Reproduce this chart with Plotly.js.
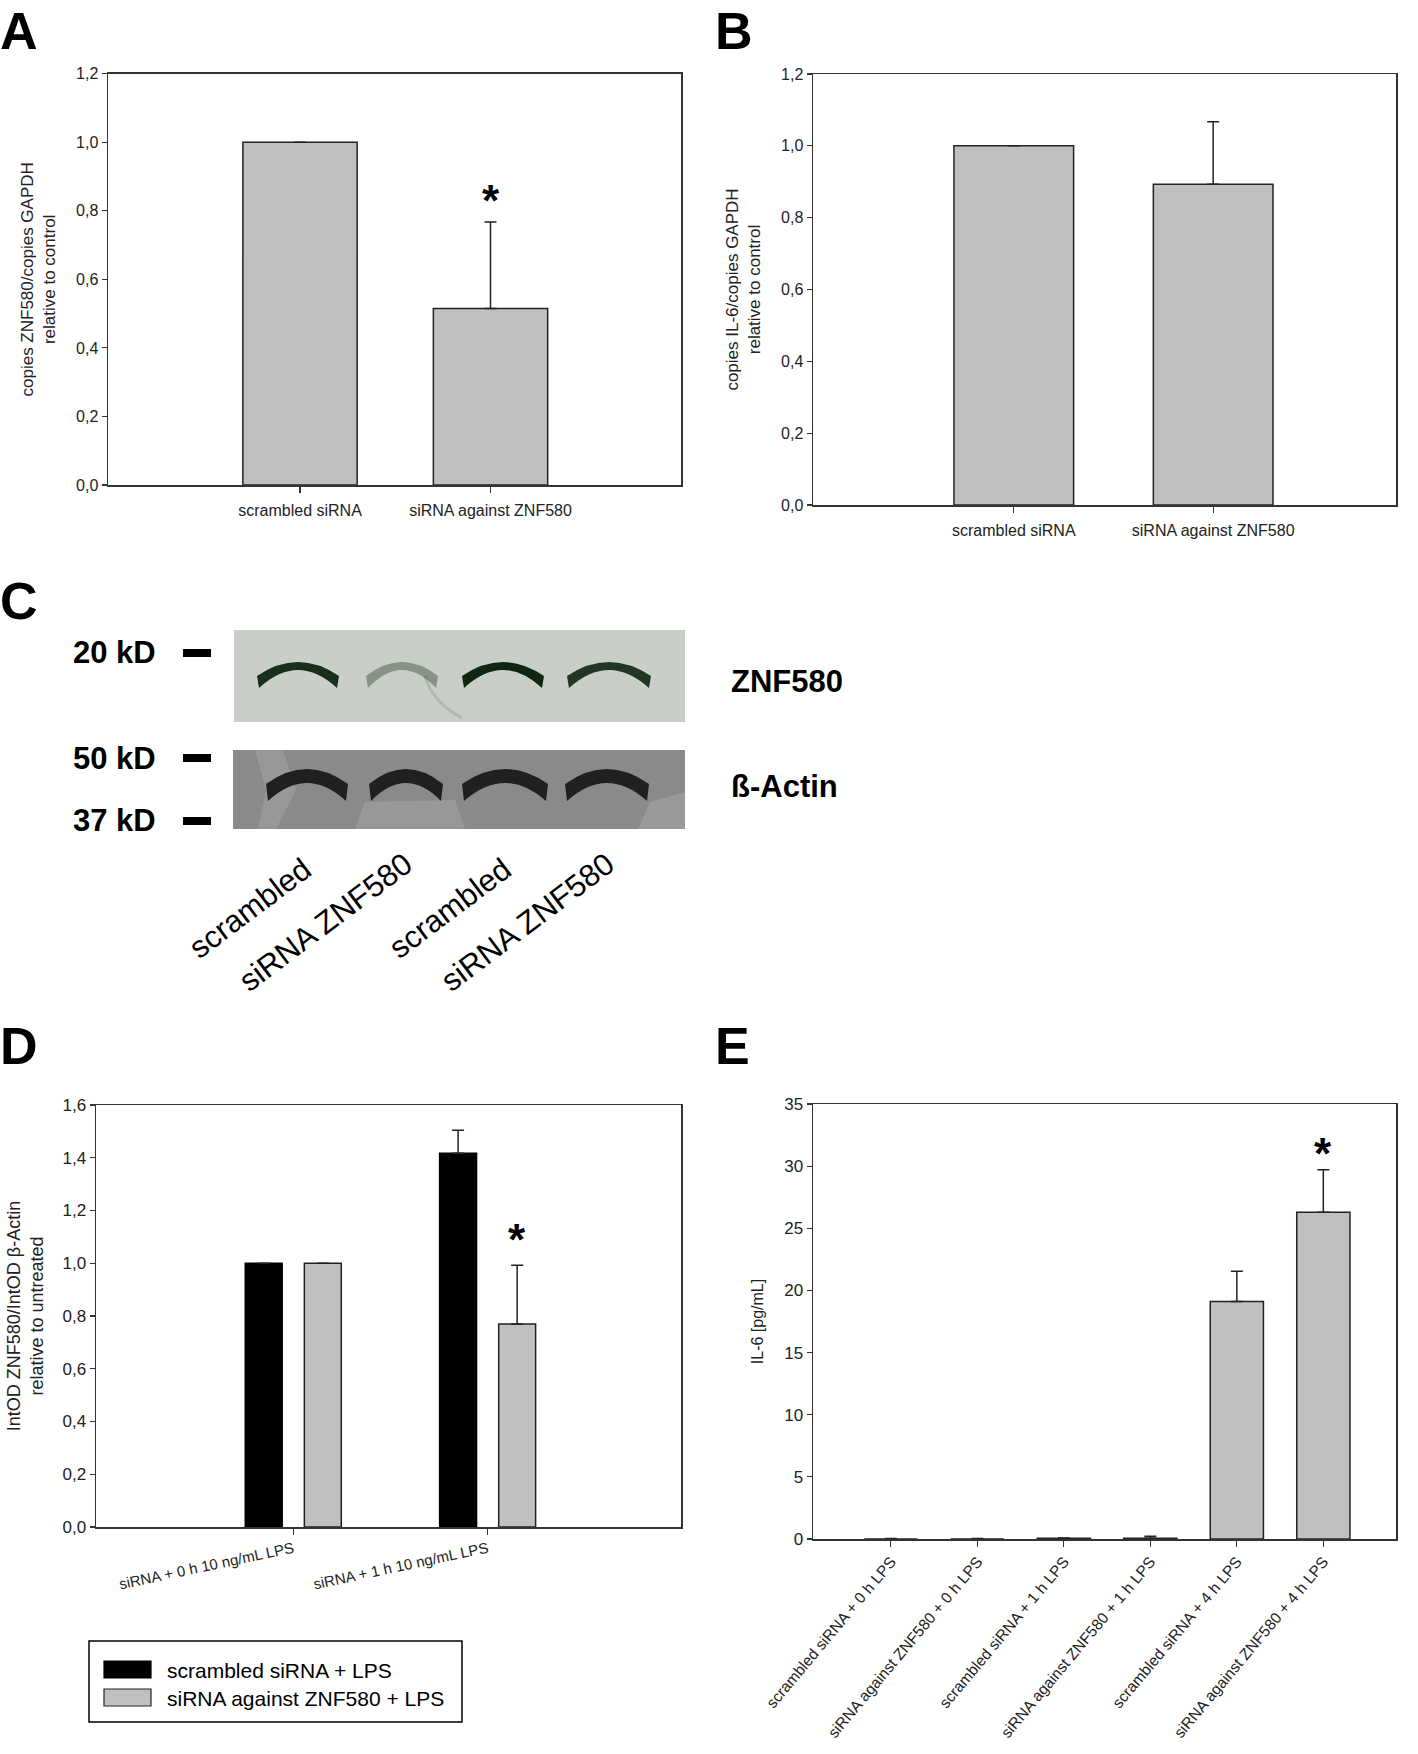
<!DOCTYPE html>
<html>
<head>
<meta charset="utf-8">
<script src="https://cdn.plot.ly/plotly-3.0.1.min.js"></script>
<style>html,body{margin:0;padding:0;background:#fff;}#chart{width:1418px;height:1754px;}</style>
</head>
<body>
<div id="chart"></div>
<script>
// ---------- DATA ----------
// Panel A
const catsA = ["scrambled siRNA", "siRNA against ZNF580"];
const valsA = [1.0, 0.515];
const errA  = [0, 0.252];
// Panel B
const catsB = ["scrambled siRNA", "siRNA against ZNF580"];
const valsB = [1.0, 0.893];
const errB  = [0, 0.174];
// Panel D
const catsD = ["siRNA + 0 h 10 ng/mL LPS", "siRNA + 1 h 10 ng/mL LPS"];
const valsDscr = [1.0, 1.417];
const errDscr  = [0, 0.087];
const valsDznf = [1.0, 0.770];
const errDznf  = [0, 0.222];
const legendD = ["scrambled siRNA + LPS", "siRNA against ZNF580 + LPS"];
// Panel E
const catsE = ["scrambled siRNA + 0 h LPS", "siRNA against ZNF580 + 0 h LPS",
               "scrambled siRNA + 1 h LPS", "siRNA against ZNF580 + 1 h LPS",
               "scrambled siRNA + 4 h LPS", "siRNA against ZNF580 + 4 h LPS"];
const valsE = [0, 0, 0.06, 0.07, 19.1, 26.3];
const errE  = [0.04, 0.04, 0.02, 0.15, 2.45, 3.4];
// Panel C (western blot)
const laneLabels = ["scrambled", "siRNA ZNF580", "scrambled", "siRNA ZNF580"];
const znfIntensity = [0.95, 0.35, 1.0, 0.9];
const actinIntensity = [1.0, 1.0, 1.0, 1.0];
const markers = ["20 kD", "50 kD", "37 kD"];
const blotNames = ["ZNF580", "ß-Actin"];

// ---------- LAYOUT HELPERS ----------
const W = 1418, H = 1754;
const px = x => x / W;
const py = y => 1 - y / H;
const FONT = "Liberation Sans, Arial, sans-serif";
const GRAY = "#c0c0c0";
const LINE = "#333333";

function yax(domTop, domBot, range, dtick, fmt, title, standoff, tsize, fsize) {
  return {
    domain: [py(domBot), py(domTop)], range: range, dtick: dtick, tick0: 0,
    tickformat: fmt, showgrid: false, zeroline: false,
    showline: true, linecolor: LINE, linewidth: 1.5, mirror: true,
    ticks: "outside", ticklen: 5, tickwidth: 1.2, tickcolor: LINE,
    tickfont: {family: FONT, size: fsize, color: "#222"},
    title: {text: title, font: {family: FONT, size: tsize, color: "#222"}, standoff: standoff},
    fixedrange: true
  };
}
function xax(domL, domR, range, angle, fsize, anchor, lblStand) {
  return {
    domain: [px(domL), px(domR)], range: range, type: "category",
    showgrid: false, zeroline: false, anchor: anchor,
    showline: true, linecolor: LINE, linewidth: 1.5, mirror: true,
    ticks: "outside", ticklen: 6, tickwidth: 1.2, tickcolor: LINE,
    tickangle: angle, tickfont: {family: FONT, size: fsize, color: "#222"},
    ticklabelstandoff: lblStand || 0,
    fixedrange: true
  };
}
function errObj(arr) {
  return {type: "data", array: arr, arrayminus: arr.map(() => 0), symmetric: false,
          visible: true, color: "#222", thickness: 1.5, width: 6};
}

const traces = [
  {type: "bar", x: catsA, y: valsA, error_y: errObj(errA), width: 0.6,
   marker: {color: GRAY, line: {color: "#222", width: 1.5}}, xaxis: "x", yaxis: "y", showlegend: false},
  {type: "bar", x: catsB, y: valsB, error_y: errObj(errB), width: 0.6,
   marker: {color: GRAY, line: {color: "#222", width: 1.5}}, xaxis: "x2", yaxis: "y2", showlegend: false},
  {type: "bar", x: catsD, y: valsDscr, error_y: errObj(errDscr), width: 0.19, offset: -0.247,
   name: legendD[0], marker: {color: "#000", line: {color: "#000", width: 1.5}}, xaxis: "x3", yaxis: "y3", showlegend: false},
  {type: "bar", x: catsD, y: valsDznf, error_y: errObj(errDznf), width: 0.19, offset: 0.057,
   name: legendD[1], marker: {color: GRAY, line: {color: "#222", width: 1.5}}, xaxis: "x3", yaxis: "y3", showlegend: false},
  {type: "bar", x: catsE, y: valsE, error_y: errObj(errE), width: 0.615,
   marker: {color: GRAY, line: {color: "#222", width: 1.5}}, xaxis: "x4", yaxis: "y4", showlegend: false}
];

// ---------- SHAPES (blot + legend) ----------
const shapes = [];
shapes.push({type: "rect", xref: "paper", yref: "paper", x0: px(234), x1: px(685), y0: py(722), y1: py(630),
             fillcolor: "#cacec8", line: {width: 0}, layer: "below"});
shapes.push({type: "rect", xref: "paper", yref: "paper", x0: px(233), x1: px(685), y0: py(829), y1: py(750),
             fillcolor: "#8a8a8a", line: {width: 0}, layer: "below"});
function pathPx(pts) {
  return "M" + pts.map(p => px(p[0]).toFixed(5) + "," + py(p[1]).toFixed(5)).join(" L") + " Z";
}
shapes.push({type: "path", xref: "paper", yref: "paper", path: pathPx([[255,750],[283,750],[296,790],[276,829],[258,829],[266,790]]),
             fillcolor: "rgba(255,255,255,0.12)", line: {width: 0}, layer: "below"});
shapes.push({type: "path", xref: "paper", yref: "paper", path: pathPx([[365,802],[455,800],[465,829],[355,829]]),
             fillcolor: "rgba(255,255,255,0.12)", line: {width: 0}, layer: "below"});
shapes.push({type: "path", xref: "paper", yref: "paper", path: pathPx([[650,802],[685,792],[685,829],[638,829]]),
             fillcolor: "rgba(255,255,255,0.14)", line: {width: 0}, layer: "below"});
shapes.push({type: "path", xref: "paper", yref: "paper",
             path: "M" + px(425) + "," + py(676) + " Q" + px(432) + "," + py(702) + " " + px(462) + "," + py(718),
             line: {color: "rgba(90,110,95,0.22)", width: 3}});
const laneTop = [298, 402, 503, 609], halfTop = [41, 36, 41, 42];
const laneBot = [307, 406, 505, 607], halfBot = [41, 37, 43, 42];
// crescent-shaped band: upper edge arc + lower edge arc, thicker at the ends
function crescent(cx, hw, yE, yP, tEnd, tMid) {
  const c1 = 2 * yP - yE;
  const yE2 = yE + tEnd, c2 = 2 * (yP + tMid) - yE2;
  return "M" + px(cx - hw) + "," + py(yE) +
         " Q" + px(cx) + "," + py(c1) + " " + px(cx + hw) + "," + py(yE) +
         " L" + px(cx + hw - 2) + "," + py(yE2) +
         " Q" + px(cx) + "," + py(c2) + " " + px(cx - hw + 2) + "," + py(yE2) + " Z";
}
znfIntensity.forEach((v, i) => {
  shapes.push({type: "path", xref: "paper", yref: "paper", path: crescent(laneTop[i], halfTop[i], 676, 662, 12, 8),
               fillcolor: "rgba(14,38,18," + v + ")", line: {width: 0}});
});
actinIntensity.forEach((v, i) => {
  shapes.push({type: "path", xref: "paper", yref: "paper", path: crescent(laneBot[i], halfBot[i], 784, 769, 17, 14),
               fillcolor: "rgba(32,32,32," + v + ")", line: {width: 0}});
});
[653, 758, 821].forEach(y => {
  shapes.push({type: "rect", xref: "paper", yref: "paper", x0: px(183), x1: px(211), y0: py(y + 4), y1: py(y - 4),
               fillcolor: "#000", line: {width: 0}});
});
// legend D
shapes.push({type: "rect", xref: "paper", yref: "paper", x0: px(89), x1: px(462), y0: py(1722), y1: py(1641),
             fillcolor: "rgba(0,0,0,0)", line: {color: "#000", width: 1.5}});
shapes.push({type: "rect", xref: "paper", yref: "paper", x0: px(104), x1: px(151), y0: py(1678), y1: py(1661),
             fillcolor: "#000", line: {color: "#000", width: 1.2}});
shapes.push({type: "rect", xref: "paper", yref: "paper", x0: px(104), x1: px(151), y0: py(1706), y1: py(1689),
             fillcolor: GRAY, line: {color: "#222", width: 1.2}});

// ---------- ANNOTATIONS ----------
const ann = [];
function panelLetter(t, x, y) {
  ann.push({text: t, xref: "paper", yref: "paper", x: px(x), y: py(y), xanchor: "left", yanchor: "top",
            showarrow: false, font: {family: FONT, size: 52, color: "#000"}});
}
panelLetter("<b>A</b>", -2, 0);
panelLetter("<b>B</b>", 713, 0);
panelLetter("<b>C</b>", -2, 570);
panelLetter("<b>D</b>", -2, 1015);
panelLetter("<b>E</b>", 713, 1015);
function star(xref, yref, x, y, xs) {
  ann.push({text: "<b>*</b>", xref: xref, yref: yref, x: x, y: y, xshift: xs || 0, showarrow: false,
            xanchor: "center", yanchor: "middle", font: {family: FONT, size: 44, color: "#000"}});
}
star("x", "y", catsA[1], 0.83);
star("x3", "y3", catsD[1], 1.09, 29);
star("x4", "y4", catsE[5], 31.0);
markers.forEach((m, i) => {
  const y = [653, 758, 821][i];
  ann.push({text: "<b>" + m + "</b>", xref: "paper", yref: "paper", x: px(158), y: py(y), xanchor: "right", yanchor: "middle",
            showarrow: false, font: {family: FONT, size: 31, color: "#000"}});
});
blotNames.forEach((m, i) => {
  const y = [681, 786][i];
  ann.push({text: "<b>" + m + "</b>", xref: "paper", yref: "paper", x: px(729), y: py(y), xanchor: "left", yanchor: "middle",
            showarrow: false, font: {family: FONT, size: 31, color: "#000"}});
});
const laneLabelPos = [[250, 909], [325, 922], [450, 909], [527, 922]];
laneLabels.forEach((t, i) => {
  ann.push({text: t, xref: "paper", yref: "paper", x: px(laneLabelPos[i][0]), y: py(laneLabelPos[i][1]),
            xanchor: "center", yanchor: "middle", textangle: -37, showarrow: false,
            font: {family: FONT, size: 31, color: "#000"}});
});
legendD.forEach((t, i) => {
  ann.push({text: t, xref: "paper", yref: "paper", x: px(165), y: py([1670, 1698][i]), xanchor: "left", yanchor: "middle",
            showarrow: false, font: {family: FONT, size: 21, color: "#000"}});
});

const layout = {
  width: W, height: H, margin: {l: 0, r: 0, t: 0, b: 0},
  paper_bgcolor: "#fff", plot_bgcolor: "#fff",
  separators: ",.", barmode: "group", showlegend: false,
  font: {family: FONT, color: "#222"},
  xaxis:  xax(108, 681, [-1.008, 2.0], 0, 16, "y", 4),
  yaxis:  Object.assign(yax(73.7, 485, [0, 1.2], 0.2, ".1f", "copies ZNF580/copies GAPDH<br>relative to control", 16, 17, 16), {anchor: "x"}),
  xaxis2: xax(813, 1396, [-1.007, 1.917], 0, 16, "y2", 4),
  yaxis2: Object.assign(yax(74, 505, [0, 1.2], 0.2, ".1f", "copies IL-6/copies GAPDH<br>relative to control", 16, 17, 16), {anchor: "x2"}),
  xaxis3: xax(96, 681, [-1.015, 1.995], -12, 15, "y3"),
  yaxis3: Object.assign(yax(1105, 1527, [0, 1.6], 0.2, ".1f", "IntOD ZNF580/IntOD β-Actin<br>relative to untreated", 14, 18, 17), {anchor: "x3"}),
  xaxis4: xax(813, 1396, [-0.90, 5.84], -50, 15.5, "y4"),
  yaxis4: Object.assign(yax(1104, 1539, [0, 35], 5, "d", "IL-6 [pg/mL]", 16, 16, 17), {anchor: "x4"}),
  shapes: shapes,
  annotations: ann
};

Plotly.newPlot("chart", traces, layout, {staticPlot: true, displayModeBar: false});
</script>
</body>
</html>
